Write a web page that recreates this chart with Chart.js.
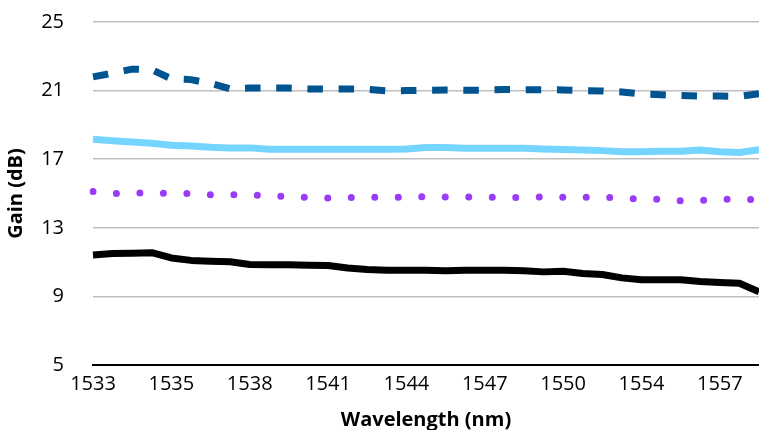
<!DOCTYPE html>
<html>
<head>
<meta charset="utf-8">
<script src="https://cdn.jsdelivr.net/npm/chart.js@4.4.0/dist/chart.umd.min.js"></script>
<style>
    html, body { margin: 0; padding: 0; background: #ffffff; }
    .chart-box { width: 759px; height: 430px; }
</style>
</head>
<body>
<div class="chart-box">
    <canvas id="gain-chart" width="759" height="430"></canvas>
</div>
<script>
// tick labels shown under every 4th sample
const tickLabels = ['1533', '1535', '1538', '1541', '1544', '1547', '1550', '1554', '1557', ''];
const yTicks = [5, 9, 13, 17, 21, 25];

const gainDashed = [21.8, 22.02, 22.25, 22.22, 21.68, 21.64, 21.42, 21.1, 21.15, 21.15, 21.15, 21.1,
    21.09, 21.1, 21.07, 20.98, 21.0, 21.02, 21.03, 21.02, 21.03, 21.06, 21.05,
    21.05, 21.04, 21.0, 20.98, 20.92, 20.8, 20.76, 20.72, 20.68, 20.68, 20.66, 20.82];
const gainCyan = [18.16, 18.08, 18.0, 17.93, 17.81, 17.77, 17.7, 17.66, 17.66, 17.58, 17.58, 17.58,
    17.58, 17.58, 17.58, 17.58, 17.6, 17.68, 17.68, 17.64, 17.64, 17.64, 17.64,
    17.6, 17.56, 17.54, 17.5, 17.44, 17.44, 17.46, 17.46, 17.54, 17.44, 17.39, 17.56];
const gainDotted = [15.11, 15.0, 15.03, 15.02, 15.01, 15.0, 14.93, 14.93, 14.93, 14.86, 14.82, 14.78,
    14.73, 14.77, 14.78, 14.78, 14.79, 14.82, 14.8, 14.8, 14.79, 14.77, 14.76,
    14.8, 14.78, 14.79, 14.78, 14.74, 14.67, 14.66, 14.58, 14.6, 14.67, 14.66, 14.64];
const gainBlack = [11.42, 11.5, 11.52, 11.55, 11.24, 11.1, 11.05, 11.02, 10.86, 10.84, 10.84, 10.82,
    10.8, 10.66, 10.57, 10.53, 10.53, 10.53, 10.5, 10.52, 10.53, 10.53, 10.5,
    10.43, 10.47, 10.33, 10.28, 10.08, 9.97, 9.97, 9.97, 9.87, 9.81, 9.77, 9.27];

let wavelengthLabels = [];
for (let i = 0; i < gainBlack.length; i++) {
    wavelengthLabels.push(i % 4 === 0 ? tickLabels[i / 4] : '')
}

const baseFont = '"Open Sans", Lato, sans-serif';

function lineSet(label, data, color, dash, cap) {
    return {
        label: label,
        data: data,
        borderColor: color,
        backgroundColor: color,
        borderWidth: 7,
        borderDash: dash,
        borderCapStyle: cap,
        borderJoinStyle: 'round',
        pointRadius: 0,
        tension: 0,
        fill: false
    }
}

const gainConfig = {
    type: 'line',
    data: {
        labels: wavelengthLabels,
        datasets: [
            lineSet('Gain A', gainDashed, '#00548F', [15.5, 15.7], 'butt'),
            lineSet('Gain B', gainCyan, '#75D5FF', [], 'butt'),
            lineSet('Gain C', gainDotted, '#9A3CF7', [0, 23.5], 'round'),
            lineSet('Gain D', gainBlack, '#000000', [], 'butt')
        ]
    },
    options: {
        responsive: false,
        animation: false,
        events: [],
        layout: {
            padding: {top: 22, right: 0, bottom: 0, left: 0}
        },
        plugins: {
            legend: {display: false},
            tooltip: {enabled: false}
        },
        scales: {
            x: {
                type: 'category',
                offset: false,
                grid: {display: false, drawTicks: false},
                border: {display: true, color: '#000000', width: 2},
                ticks: {
                    autoSkip: false,
                    maxRotation: 0,
                    color: '#000000',
                    padding: 7,
                    font: {family: baseFont, size: 20}
                },
                title: {
                    display: true,
                    text: 'Wavelength (nm)',
                    color: '#000000',
                    padding: {top: 0, bottom: -2},
                    font: {family: baseFont, size: 20, weight: 'bold'}
                },
                afterFit: (scale) => {
                    scale.height = 65
                    scale.paddingLeft = 0
                    scale.paddingRight = 0
                }
            },
            y: {
                min: yTicks[0],
                max: yTicks[yTicks.length - 1],
                afterBuildTicks: (scale) => {
                    scale.ticks = yTicks.map(v => ({value: v}))
                },
                grid: {color: '#BFBFBF', lineWidth: 1.5, drawTicks: false},
                border: {display: false},
                ticks: {
                    color: '#000000',
                    padding: 29,
                    font: {family: baseFont, size: 20}
                },
                title: {
                    display: true,
                    text: 'Gain (dB)',
                    color: '#000000',
                    padding: {top: 4, bottom: 0},
                    font: {family: baseFont, size: 20, weight: 'bold'}
                },
                afterFit: (scale) => {
                    scale.width = 93
                    scale.paddingTop = 0
                    scale.paddingBottom = 0
                }
            }
        }
    }
};

const gainChart = new Chart(
    document.getElementById('gain-chart').getContext('2d'),
    gainConfig
);
</script>
</body>
</html>
